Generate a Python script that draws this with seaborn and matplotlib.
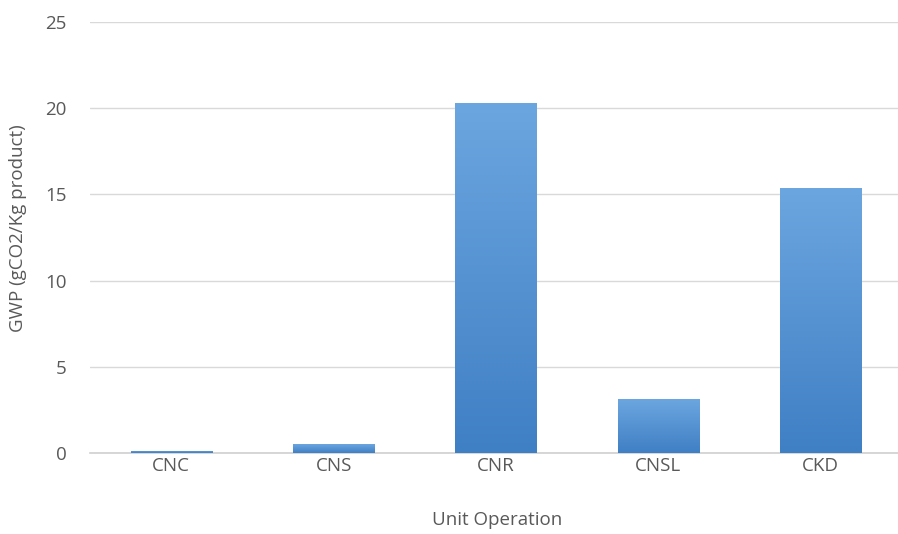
import numpy as np
import pandas as pd
import matplotlib
matplotlib.use("Agg")
import matplotlib.pyplot as plt
import seaborn as sns
from matplotlib.colors import LinearSegmentedColormap

categories = ["CNC", "CNS", "CNR", "CNSL", "CKD"]
values = [0.12, 0.52, 20.3, 3.13, 15.35]
yticks = [0, 5, 10, 15, 20, 25]

sns.set_theme(style="white")
plt.rcParams['font.family'] = ['Open Sans', 'DejaVu Sans']

df = pd.DataFrame({"Unit Operation": categories, "GWP": values})

fig = plt.figure(figsize=(8.98, 5.34), dpi=100)
ax = fig.add_axes([90/898, 81/534, 812/898, 431/534])
sns.barplot(data=df, x="Unit Operation", y="GWP", color="#5b9bd5", width=0.5,
            saturation=1, ax=ax, zorder=3)

# gradient fill on each bar
cmap = LinearSegmentedColormap.from_list("g", ["#3f7fc4", "#6ca6e0"])
grad = np.linspace(0, 1, 256).reshape(-1, 1)
for p in ax.patches:
    x0, y0 = p.get_x(), p.get_y()
    w, h = p.get_width(), p.get_height()
    im = ax.imshow(grad, extent=[x0, x0 + w, y0, y0 + h], origin="lower",
                   aspect="auto", cmap=cmap, zorder=4)
    im.set_clip_path(p)
    p.set_edgecolor("none")

fs = 13.5
ax.set_xlim(-0.5, 4.5)
ax.set_ylim(0, 25)
ax.set_yticks(yticks)
ax.set_yticklabels([str(t) for t in yticks])
ax.yaxis.grid(True, color="#d9d9d9", linewidth=1, zorder=0)
ax.set_axisbelow(True)
for s in ["top", "right", "left"]:
    ax.spines[s].set_visible(False)
ax.spines["bottom"].set_color("#d0d0d0")
ax.spines["bottom"].set_linewidth(1.2)
ax.tick_params(axis="both", length=0, colors="#595959", labelsize=fs)
ax.tick_params(axis="y", pad=17)
ax.tick_params(axis="x", pad=3)
ax.set_xlabel("Unit Operation", fontsize=fs, color="#595959")
ax.set_ylabel("GWP (gCO2/Kg product)", fontsize=fs, color="#595959", va="center")
ax.xaxis.set_label_coords((497 - 90) / 812, (453 - 520) / 431)
ax.xaxis.label.set_va("center")
ax.yaxis.set_label_coords((18 - 90) / 812, (453 - 228) / 431)

fig.savefig("out.png", dpi=100)
